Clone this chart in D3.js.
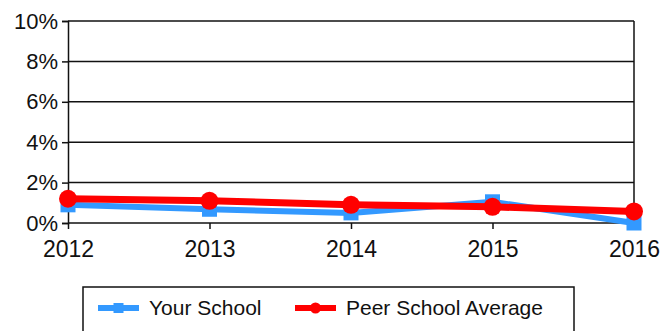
<!DOCTYPE html>
<html>
<head>
<meta charset="utf-8">
<script src="https://cdn.jsdelivr.net/npm/d3@7"></script>
<style>
  body { margin: 0; background: #fff; }
  svg text { font-family: "Liberation Sans", Arial, sans-serif; fill: #111; }
</style>
</head>
<body>
<div id="chart"></div>
<script>
// chart data
const years = ["2012", "2013", "2014", "2015", "2016"];
const yourSchool = [0.9, 0.68, 0.5, 1.05, 0.0];
const peerAverage = [1.2, 1.1, 0.9, 0.8, 0.57];
const yTicks = [0, 2, 4, 6, 8, 10];

const width = 663, height = 331;
const margin = { top: 21, right: 29, bottom: 108, left: 68 };

const svg = d3.select("#chart").append("svg")
    .attr("width", width)
    .attr("height", height);

const x = d3.scalePoint().domain(years).range([margin.left, width - margin.right]);
const y = d3.scaleLinear().domain([0, 10]).range([height - margin.bottom, margin.top]);

// gridlines
svg.append("g")
    .selectAll("line")
    .data(yTicks)
    .enter()
    .append("line")
    .attr("x1", margin.left)
    .attr("x2", width - margin.right)
    .attr("y1", (d) => y(d))
    .attr("y2", (d) => y(d))
    .attr("stroke", "#111")
    .attr("stroke-width", 1.5);

// right border
svg.append("line")
    .attr("x1", width - margin.right).attr("x2", width - margin.right)
    .attr("y1", y(10)).attr("y2", y(0))
    .attr("stroke", "#111").attr("stroke-width", 1.5);

// y axis
const yAxis = d3.axisLeft(y).tickValues(yTicks).tickFormat((d) => d + "%").tickSize(6).tickPadding(4);
const gy = svg.append("g").attr("transform", `translate(${margin.left},0)`).call(yAxis);
gy.select(".domain").attr("stroke", "#111").attr("stroke-width", 1.5);
gy.selectAll(".tick line").attr("stroke", "#111").attr("stroke-width", 1.5);
gy.selectAll("text").style("font-size", "22px").attr("fill", "#111");

// x axis
const xAxis = d3.axisBottom(x).tickSize(6).tickPadding(12);
const gx = svg.append("g").attr("transform", `translate(0,${y(0)})`).call(xAxis);
gx.select(".domain").remove();
gx.selectAll(".tick line").attr("stroke", "#111").attr("stroke-width", 1.5);
gx.selectAll("text").style("font-size", "23px").attr("fill", "#111");

const line = d3.line().x((d, i) => x(years[i])).y((d) => y(d));

// Your School
svg.append("path")
    .datum(yourSchool)
    .attr("d", line)
    .attr("fill", "none")
    .attr("stroke", "#3399ff")
    .attr("stroke-width", 6);

svg.append("g")
    .selectAll("rect")
    .data(yourSchool)
    .enter()
    .append("rect")
    .attr("x", (d, i) => x(years[i]) - 7.5)
    .attr("y", (d) => y(d) - 7.5)
    .attr("width", 15)
    .attr("height", 15)
    .attr("fill", "#3399ff");

// Peer School Average
svg.append("path")
    .datum(peerAverage)
    .attr("d", line)
    .attr("fill", "none")
    .attr("stroke", "#ff0000")
    .attr("stroke-width", 7);

svg.append("g")
    .selectAll("circle")
    .data(peerAverage)
    .enter()
    .append("circle")
    .attr("cx", (d, i) => x(years[i]))
    .attr("cy", (d) => y(d))
    .attr("r", 9)
    .attr("fill", "#ff0000");

// legend
const legend = svg.append("g");
legend.append("rect")
    .attr("x", 83).attr("y", 287)
    .attr("width", 491).attr("height", 50)
    .attr("fill", "none")
    .attr("stroke", "#111")
    .attr("stroke-width", 1.5);

const legendItems = [
    { label: "Your School", color: "#3399ff", x: 98, marker: "rect" },
    { label: "Peer School Average", color: "#ff0000", x: 295, marker: "circle" },
];

legendItems.forEach((it) => {
    legend.append("line")
        .attr("x1", it.x).attr("x2", it.x + 41)
        .attr("y1", 308).attr("y2", 308)
        .attr("stroke", it.color).attr("stroke-width", 6);
    if (it.marker === "rect") {
        legend.append("rect")
            .attr("x", it.x + 20.5 - 5).attr("y", 303)
            .attr("width", 10).attr("height", 10)
            .attr("fill", it.color);
    } else {
        legend.append("circle")
            .attr("cx", it.x + 20.5).attr("cy", 308).attr("r", 5.5)
            .attr("fill", it.color);
    }
    legend.append("text")
        .attr("x", it.x + 51)
        .attr("y", 315)
        .style("font-size", "21px")
        .text(it.label);
});
</script>
</body>
</html>
